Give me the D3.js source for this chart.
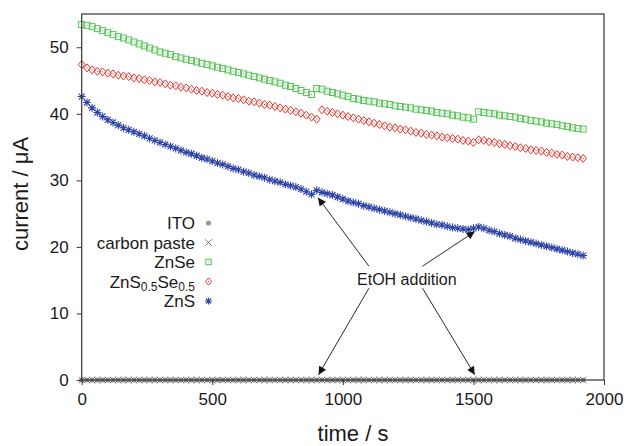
<!DOCTYPE html>
<html><head><meta charset="utf-8">
<script src="https://cdn.jsdelivr.net/npm/d3@7"></script>
<style>body{margin:0;background:#fff}svg{display:block;font-family:"Liberation Sans",Arial,sans-serif}</style>
</head><body><svg id="c" width="627" height="446"></svg>
<script>
const time = [0,20,40,60,80,100,120,140,160,180,200,220,240,260,280,300,320,340,360,380,400,420,440,460,480,500,520,540,560,580,600,620,640,660,680,700,720,740,760,780,800,820,840,860,880,900,920,940,960,980,1000,1020,1040,1060,1080,1100,1120,1140,1160,1180,1200,1220,1240,1260,1280,1300,1320,1340,1360,1380,1400,1420,1440,1460,1480,1500,1520,1540,1560,1580,1600,1620,1640,1660,1680,1700,1720,1740,1760,1780,1800,1820,1840,1860,1880,1900,1920];
const ito = [0,0,0,0,0,0,0,0,0,0,0,0,0,0,0,0,0,0,0,0,0,0,0,0,0,0,0,0,0,0,0,0,0,0,0,0,0,0,0,0,0,0,0,0,0,0,0,0,0,0,0,0,0,0,0,0,0,0,0,0,0,0,0,0,0,0,0,0,0,0,0,0,0,0,0,0,0,0,0,0,0,0,0,0,0,0,0,0,0,0,0,0,0,0,0,0,0];
const carbonPaste = [0,0,0,0,0,0,0,0,0,0,0,0,0,0,0,0,0,0,0,0,0,0,0,0,0,0,0,0,0,0,0,0,0,0,0,0,0,0,0,0,0,0,0,0,0,0,0,0,0,0,0,0,0,0,0,0,0,0,0,0,0,0,0,0,0,0,0,0,0,0,0,0,0,0,0,0,0,0,0,0,0,0,0,0,0,0,0,0,0,0,0,0,0,0,0,0,0];
const znse = [53.4,53.3,53.1,52.8,52.5,52.2,51.9,51.6,51.4,51.1,
50.8,50.5,50.2,49.9,49.6,49.3,49.1,48.9,48.6,48.4,
48.2,48.0,47.8,47.6,47.4,47.2,47.0,46.8,46.6,46.4,
46.2,46.0,45.8,45.6,45.4,45.2,45.0,44.8,44.6,44.3,
44.1,43.8,43.5,43.2,42.9,43.8,43.7,43.4,43.2,43.0,
42.8,42.6,42.3,42.2,42.0,41.9,41.8,41.6,41.5,41.4,
41.2,41.1,41.0,40.9,40.7,40.6,40.5,40.4,40.2,40.1,
40.0,39.8,39.7,39.5,39.4,39.2,40.3,40.2,40.1,40.0,
39.8,39.7,39.6,39.5,39.3,39.2,39.0,38.9,38.8,38.6,
38.5,38.4,38.2,38.1,37.9,37.8,37.7];
const znsse = [47.4,46.9,46.6,46.4,46.3,46.1,46.0,45.8,45.7,45.6,
45.4,45.3,45.1,45.0,44.8,44.7,44.5,44.3,44.2,44.0,
43.9,43.7,43.5,43.4,43.2,43.1,42.9,42.8,42.6,42.4,
42.3,42.1,41.9,41.8,41.6,41.4,41.3,41.1,40.9,40.7,
40.5,40.3,40.1,39.8,39.5,39.2,40.6,40.4,40.2,40.0,
39.8,39.6,39.4,39.2,39.0,38.8,38.6,38.4,38.2,38.0,
37.9,37.7,37.6,37.4,37.2,37.1,36.9,36.8,36.7,36.5,
36.4,36.3,36.2,36.0,35.9,35.7,36.1,36.0,35.8,35.7,
35.5,35.4,35.2,35.1,34.9,34.8,34.6,34.5,34.4,34.2,
34.1,33.9,33.8,33.6,33.5,33.4,33.3];
const zns = [42.6,41.7,40.9,40.2,39.6,39.1,38.7,38.3,37.9,37.6,
37.3,37.0,36.7,36.3,36.0,35.7,35.4,35.1,34.8,34.5,
34.2,34.0,33.7,33.4,33.2,32.9,32.6,32.4,32.1,31.8,
31.6,31.3,31.1,30.8,30.6,30.4,30.1,29.9,29.7,29.4,
29.2,29.0,28.7,28.3,27.9,28.5,28.2,28.0,27.8,27.5,
27.2,26.9,26.7,26.5,26.2,26.0,25.8,25.6,25.4,25.2,
25.0,24.8,24.6,24.4,24.2,24.0,23.8,23.6,23.4,23.3,
23.1,22.9,22.8,22.7,22.6,22.8,23.0,22.8,22.5,22.3,
22.0,21.8,21.6,21.3,21.1,20.9,20.7,20.5,20.3,20.1,
19.9,19.7,19.5,19.3,19.1,18.9,18.7];
const xTicks = [0,500,1000,1500,2000];
const yTicks = [0,10,20,30,40,50];
const seriesNames = ["ITO","carbon paste","ZnSe","ZnS0.5Se0.5","ZnS"];
const annotationText = "EtOH addition";
const annotationAt = [1245, 14.3];
const arrowFrom = [[1100,17.1],[1305,17.1],[1100,13.8],[1305,13.8]];
const arrowTo = [[905,27.4],[1505,22.3],[907,0.8],[1505,0.8]];

const W=627,H=446, m={l:81.7,r:23,t:14,b:66};
const svg=d3.select("#c");
const x=d3.scaleLinear().domain([0,2000]).range([m.l,W-m.r]);
const y=d3.scaleLinear().domain([0,55]).range([H-m.b,m.t]);
const axisCol="#333", textCol="#1a1a1a";

const colors={ito:"#9a9a9a",cp:"#555",znse:"#55c455",znsse:"#e6332b",zns:"#2e43a6"};

function sym(g,type,cx,cy,big){
  const k=big?1:0.9;
  if(type==="ito"){g.append("circle").attr("cx",cx).attr("cy",cy).attr("r",2.6).attr("fill",colors.ito);}
  else if(type==="cp"){const s=3.2;g.append("path").attr("d",`M${cx-s},${cy-s}L${cx+s},${cy+s}M${cx-s},${cy+s}L${cx+s},${cy-s}`).attr("stroke",colors.cp).attr("stroke-width",0.8).attr("fill","none");}
  else if(type==="znse"){const s=3.0*k;g.append("rect").attr("x",cx-s).attr("y",cy-s).attr("width",2*s).attr("height",2*s).attr("fill","none").attr("stroke",colors.znse).attr("stroke-width",1);
    g.append("rect").attr("x",cx-0.5).attr("y",cy-0.5).attr("width",1).attr("height",1).attr("fill",colors.znse);}
  else if(type==="znsse"){const s=4.0*k;g.append("path").attr("d",`M${cx},${cy-s}L${cx+s*0.85},${cy}L${cx},${cy+s}L${cx-s*0.85},${cy}Z`).attr("fill","none").attr("stroke",colors.znsse).attr("stroke-width",1);
    g.append("rect").attr("x",cx-0.5).attr("y",cy-0.5).attr("width",1).attr("height",1).attr("fill",colors.znsse);}
  else if(type==="zns"){const s=4.0*k,d=3.0*k;g.append("path").attr("d",`M${cx-s},${cy}L${cx+s},${cy}M${cx},${cy-s}L${cx},${cy+s}M${cx-d},${cy-d}L${cx+d},${cy+d}M${cx-d},${cy+d}L${cx+d},${cy-d}`).attr("stroke",colors.zns).attr("stroke-width",1.1).attr("fill","none");}
}

const plotG=svg.append("g");
const sets=[["ito",ito],["cp",carbonPaste],["znse",znse],["znsse",znsse],["zns",zns]];
sets.forEach(([k,vals])=>{
  const g=plotG.append("g");
  vals.forEach((v,i)=>sym(g,k,x(time[i]),y(v),true));
});

svg.append("rect").attr("x",x(0)).attr("y",y(55)).attr("width",x(2000)-x(0)).attr("height",y(0)-y(55))
  .attr("fill","none").attr("stroke",axisCol).attr("stroke-width",1.2);

const yAx=d3.axisLeft(y).tickValues(yTicks).tickSize(5).tickPadding(8).tickFormat(d3.format("d"));
const ga=svg.append("g").attr("transform",`translate(${x(0)},0)`).call(yAx);
ga.select(".domain").remove();
ga.selectAll("line").attr("stroke",axisCol);
ga.selectAll("text").attr("font-size",17).attr("fill",textCol).attr("font-family","Liberation Sans, Arial, sans-serif");
const xAx=d3.axisBottom(x).tickValues(xTicks).tickSize(5).tickPadding(8).tickFormat(d3.format("d"));
const gx=svg.append("g").attr("transform",`translate(0,${y(0)})`).call(xAx);
gx.select(".domain").remove();
gx.selectAll("line").attr("stroke",axisCol);
gx.selectAll("text").attr("font-size",17).attr("fill",textCol).attr("font-family","Liberation Sans, Arial, sans-serif");

svg.append("text").attr("x",353).attr("y",441).attr("text-anchor","middle").attr("font-size",22).attr("fill",textCol).text("time / s");
svg.append("text").attr("transform","translate(28,194) rotate(-90)").attr("text-anchor","middle").attr("font-size",22).attr("fill",textCol).text("current / μA");

const keys=["ito","cp","znse","znsse","zns"];
const lg=svg.append("g");
keys.forEach((k,i)=>{
  const cy=223+i*19.5;
  const t=lg.append("text").attr("x",195).attr("y",cy+6).attr("text-anchor","end").attr("font-size",17).attr("fill",textCol);
  const name=seriesNames[i];
  if(name==="ZnS0.5Se0.5"){
    t.append("tspan").text("ZnS");
    t.append("tspan").attr("font-size",12).attr("dy",3).text("0.5");
    t.append("tspan").attr("dy",-3).text("Se");
    t.append("tspan").attr("font-size",12).attr("dy",3).text("0.5");
  } else t.text(name);
  sym(lg,k,208.5,cy,false);
});

svg.append("defs").append("marker").attr("id","ah").attr("viewBox","0 0 10 10").attr("refX",10).attr("refY",5)
  .attr("markerWidth",11).attr("markerHeight",8).attr("markerUnits","userSpaceOnUse").attr("orient","auto")
  .append("path").attr("d","M0,0L10,5L0,10Z").attr("fill","#111");
arrowFrom.forEach((f,i)=>{
  const t=arrowTo[i];
  svg.append("line").attr("x1",x(f[0])).attr("y1",y(f[1])).attr("x2",x(t[0])).attr("y2",y(t[1]))
    .attr("stroke","#111").attr("stroke-width",0.9).attr("marker-end","url(#ah)");
});
svg.append("text").attr("x",x(annotationAt[0])).attr("y",y(annotationAt[1])).attr("text-anchor","middle")
  .attr("font-size",16).attr("fill",textCol).text(annotationText);
</script></body></html>
